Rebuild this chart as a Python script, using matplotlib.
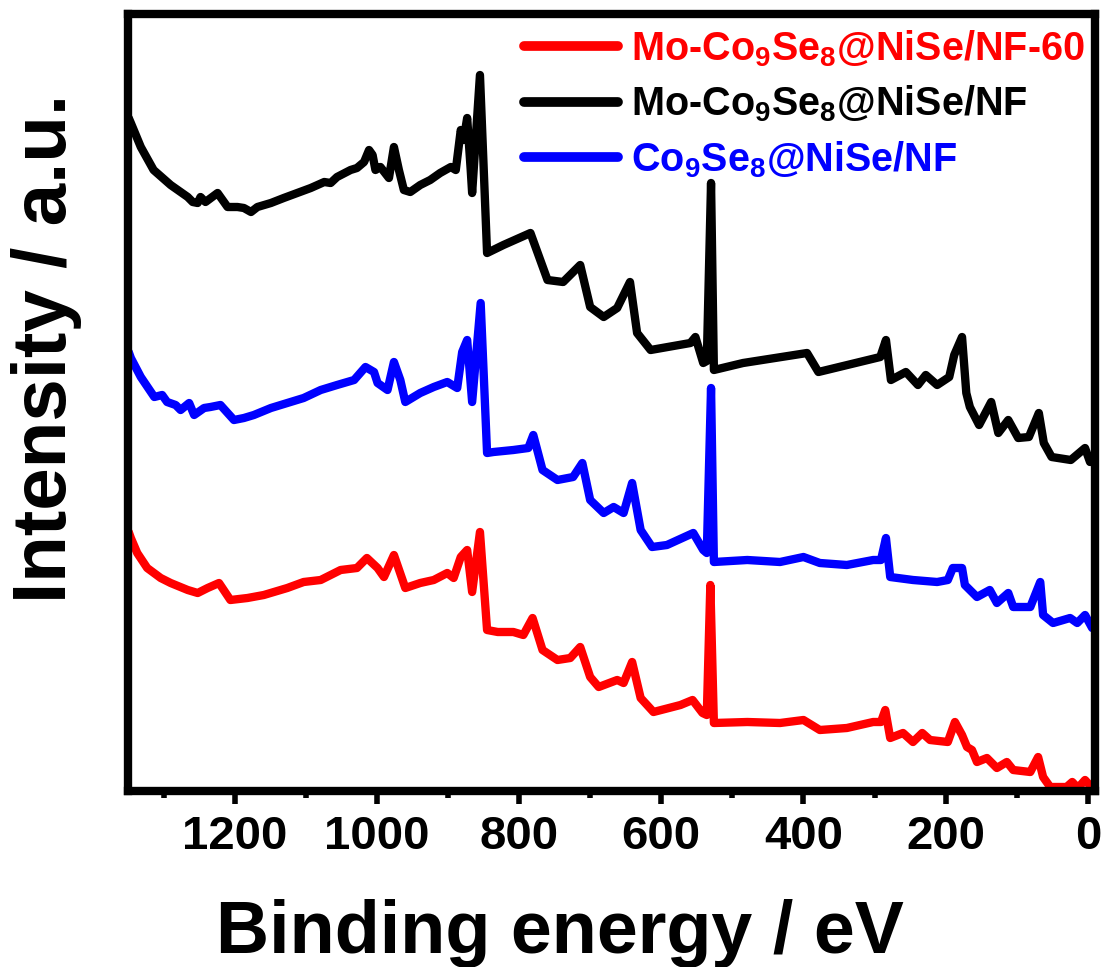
import matplotlib
matplotlib.use("Agg")
import matplotlib.pyplot as plt

plt.rcParams['font.family'] = ['Liberation Sans', 'DejaVu Sans']
plt.rcParams['font.weight'] = 'bold'
plt.rcParams['mathtext.fontset'] = 'custom'
plt.rcParams['mathtext.rm'] = 'Liberation Sans:bold'
plt.rcParams['mathtext.default'] = 'rm'

# ---- data (binding energy in eV, intensity in a.u.) ----
black_E = [1349, 1346, 1332, 1314, 1290, 1266, 1259, 1252, 1248, 1241, 1224, 1210, 1196, 1187,
           1177, 1168, 1149, 1131, 1112, 1093, 1074, 1065, 1056, 1037, 1028, 1018, 1011, 1006,
           1002, 995, 983, 976, 969, 962, 953, 939, 925, 911, 896, 889, 882, 878, 873, 868,
           866, 855, 845, 822, 784, 760, 738, 714, 700, 681, 662, 644, 634, 615, 559, 552,
           541, 536, 530, 526, 485, 395, 379, 292, 284, 277, 256, 239, 228, 212, 195, 188,
           177, 171, 166, 153, 136, 126, 112, 98, 83, 69, 62, 51, 24, 4, -3]
black_I = [673, 668, 644, 621, 606, 594, 589, 588, 594, 589, 598, 584, 584, 583,
           579, 584, 588, 593, 598, 603, 609, 608, 614, 621, 623, 629, 641, 636,
           621, 624, 613, 644, 621, 601, 599, 606, 611, 618, 624, 621, 661, 651, 673, 621,
           598, 716, 538, 546, 558, 511, 509, 526, 484, 474, 483, 509, 458, 441, 448, 454,
           428, 430, 608, 421, 428, 438, 419, 434, 451, 411, 419, 406, 416, 406, 414, 436,
           454, 398, 384, 366, 389, 358, 371, 353, 354, 378, 348, 334, 331, 343, 329]

blue_E = [1349, 1346, 1332, 1313, 1302, 1295, 1283, 1276, 1264, 1257, 1243, 1234, 1220, 1201,
          1187, 1173, 1149, 1126, 1103, 1079, 1056, 1032, 1016, 1004, 999, 985, 976, 967,
          960, 939, 920, 901, 887, 880, 873, 866, 854, 845, 836, 808, 787, 780, 767, 746,
          724, 711, 700, 681, 667, 653, 641, 629, 613, 592, 555, 541, 536, 530, 526, 479,
          433, 400, 377, 339, 302, 291, 284, 278, 246, 212, 197, 190, 177, 173, 156, 138,
          128, 112, 105, 81, 67, 63, 49, 25, 15, 4, -6]
blue_I = [439, 433, 414, 394, 396, 389, 386, 381, 388, 376, 383, 384, 386, 371,
          373, 376, 383, 388, 393, 401, 406, 411, 424, 419, 408, 401, 429, 411,
          389, 398, 404, 409, 403, 439, 451, 389, 488, 338, 339, 341, 343, 356, 321, 311,
          314, 328, 291, 278, 284, 278, 308, 261, 244, 246, 258, 241, 238, 403, 229, 231,
          229, 234, 228, 226, 231, 231, 253, 214, 211, 209, 211, 223, 223, 206, 194, 201,
          188, 198, 184, 184, 209, 176, 168, 173, 168, 176, 163]

red_E = [1349, 1346, 1337, 1323, 1304, 1290, 1266, 1252, 1238, 1222, 1206, 1182, 1159, 1126,
         1103, 1079, 1051, 1028, 1014, 999, 990, 976, 960, 939, 920, 901, 892, 882, 873,
         866, 855, 845, 830, 808, 794, 781, 767, 746, 728, 714, 700, 688, 662, 653, 641,
         629, 611, 573, 556, 542, 536, 531, 526, 479, 433, 400, 377, 339, 302, 291, 285,
         278, 260, 246, 233, 222, 197, 187, 177, 170, 163, 156, 142, 128, 114, 105, 81,
         70, 63, 53, 30, 22, 14, 4, -6]
red_I = [259, 253, 238, 223, 213, 208, 201, 198, 203, 208, 191, 193, 196, 203,
         209, 211, 221, 223, 233, 223, 214, 236, 203, 208, 211, 218, 213, 234, 241,
         199, 259, 161, 159, 159, 156, 173, 141, 131, 133, 144, 114, 104, 111, 108, 129,
         93, 79, 86, 91, 78, 76, 206, 68, 69, 68, 71, 61, 63, 69, 69, 81,
         53, 58, 49, 58, 51, 49, 69, 56, 44, 41, 29, 33, 23, 29, 21, 19,
         34, 14, 4, 4, 9, 3, 11, 3]

labels = ['Mo-Co$_{9}$Se$_{8}$@NiSe/NF-60', 'Mo-Co$_{9}$Se$_{8}$@NiSe/NF', 'Co$_{9}$Se$_{8}$@NiSe/NF']
colors = ['#FF0000', '#000000', '#0000FF']
x_ticks = [1200, 1000, 800, 600, 400, 200, 0]

fig = plt.figure(figsize=(11.04, 9.67), dpi=100)
ax = fig.add_axes([128 / 1104, 1 - 791 / 967, (1095 - 128) / 1104, (791 - 14) / 967])

lw = 6
kw = dict(lw=lw, solid_joinstyle='round', solid_capstyle='round')
ax.plot(red_E, red_I, color=colors[0], label=labels[0], **kw)
ax.plot(black_E, black_I, color=colors[1], label=labels[1], **kw)
ax.plot(blue_E, blue_I, color=colors[2], label=labels[2], **kw)

ax.set_xlim(1350, -10)
ax.set_ylim(0, 777)
ax.set_xticks(x_ticks)
ax.set_xticks(list(range(1300, -1, -200)), minor=True)
ax.set_yticks([])

for s in ax.spines.values():
    s.set_linewidth(6)
ax.tick_params(axis='x', which='major', direction='out', length=9, width=4, labelsize=34, pad=8)
ax.tick_params(axis='x', which='minor', direction='out', length=5, width=4)
for t in ax.get_xticklabels():
    t.set_fontweight('bold')

ax.set_xlabel('Binding energy / eV', fontsize=53, fontweight='bold')
ax.xaxis.set_label_coords(0.447, -0.139)
ax.set_ylabel('Intensity / a.u.', fontsize=55, fontweight='bold')
ax.yaxis.set_label_coords(-0.048, 0.57)

leg = ax.legend(loc='upper right', bbox_to_anchor=(0.9897, 0.982), frameon=False, fontsize=28.5,
                handlelength=2.37, handletextpad=0.33, labelspacing=0.38, borderaxespad=0.0,
                borderpad=0.0, labelcolor='linecolor')
for line in leg.get_lines():
    line.set_linewidth(7)
for t in leg.get_texts():
    t.set_fontweight('bold')

fig.savefig('out.png', dpi=100)
